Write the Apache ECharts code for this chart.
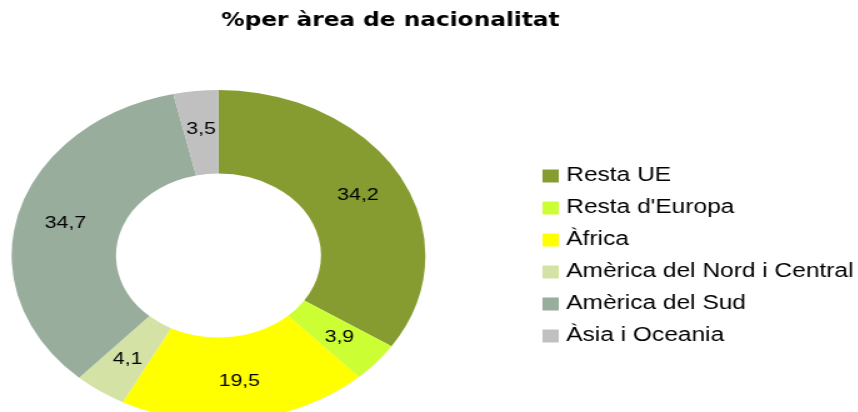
<!DOCTYPE html>
<html>
<head>
<meta charset="utf-8">
<script src="https://cdn.jsdelivr.net/npm/echarts@6/dist/echarts.min.js"></script>
<style>
  html, body { margin: 0; padding: 0; background: #fff; }
  #wrap { width: 858px; height: 412px; overflow: hidden; }
  /* el gràfic original està estirat en horitzontal */
  #chart { width: 686.4px; height: 412px; transform: scaleX(1.25); transform-origin: 0 0; }
</style>
</head>
<body>
<div id="wrap"><div id="chart"></div></div>
<script>
const titleText = "%per àrea de nacionalitat";
const areas = ["Resta UE", "Resta d'Europa", "Àfrica", "Amèrica del Nord i Central", "Amèrica del Sud", "Àsia i Oceania"];
const percents = [34.2, 3.9, 19.5, 4.1, 34.7, 3.5];
const colors = ["#869B30", "#CCFF33", "#FFFF00", "#D4E3A5", "#99AD9C", "#C0C0C0"];

const pieData = areas.map((name, i) => ({
  name: name,
  value: percents[i],
  itemStyle: { color: colors[i] },
}));

const myChart = echarts.init(document.getElementById("chart"), null, { renderer: "canvas" });
myChart.setOption({
  animation: false,
  title: {
    text: titleText,
    left: 172,
    top: 7,
    textStyle: {
      fontFamily: "DejaVu Sans",
      fontWeight: "bold",
      fontSize: 18.6,
      color: "#000",
    },
  },
  legend: {
    orient: "vertical",
    left: 429,
    top: 161,
    itemWidth: 13,
    itemHeight: 13,
    itemGap: 12,
    icon: "rect",
    textStyle: {
      fontFamily: "Liberation Sans",
      fontSize: 19.6,
      lineHeight: 20,
      color: "#000",
      padding: [0, 0, 0, 1],
    },
    data: areas,
  },
  series: [
    {
      type: "pie",
      center: [174.8, 255.5],
      radius: [82, 165.5],
      startAngle: 90,
      clockwise: true,
      avoidLabelOverlap: false,
      silent: true,
      itemStyle: { borderWidth: 0 },
      label: {
        show: true,
        position: "inside",
        fontFamily: "Liberation Sans",
        fontSize: 17,
        color: "#000",
        formatter(p) {
          return p.value.toFixed(1).replace(".", ",");
        },
      },
      labelLine: { show: false },
      data: pieData,
    },
  ],
});
</script>
</body>
</html>
